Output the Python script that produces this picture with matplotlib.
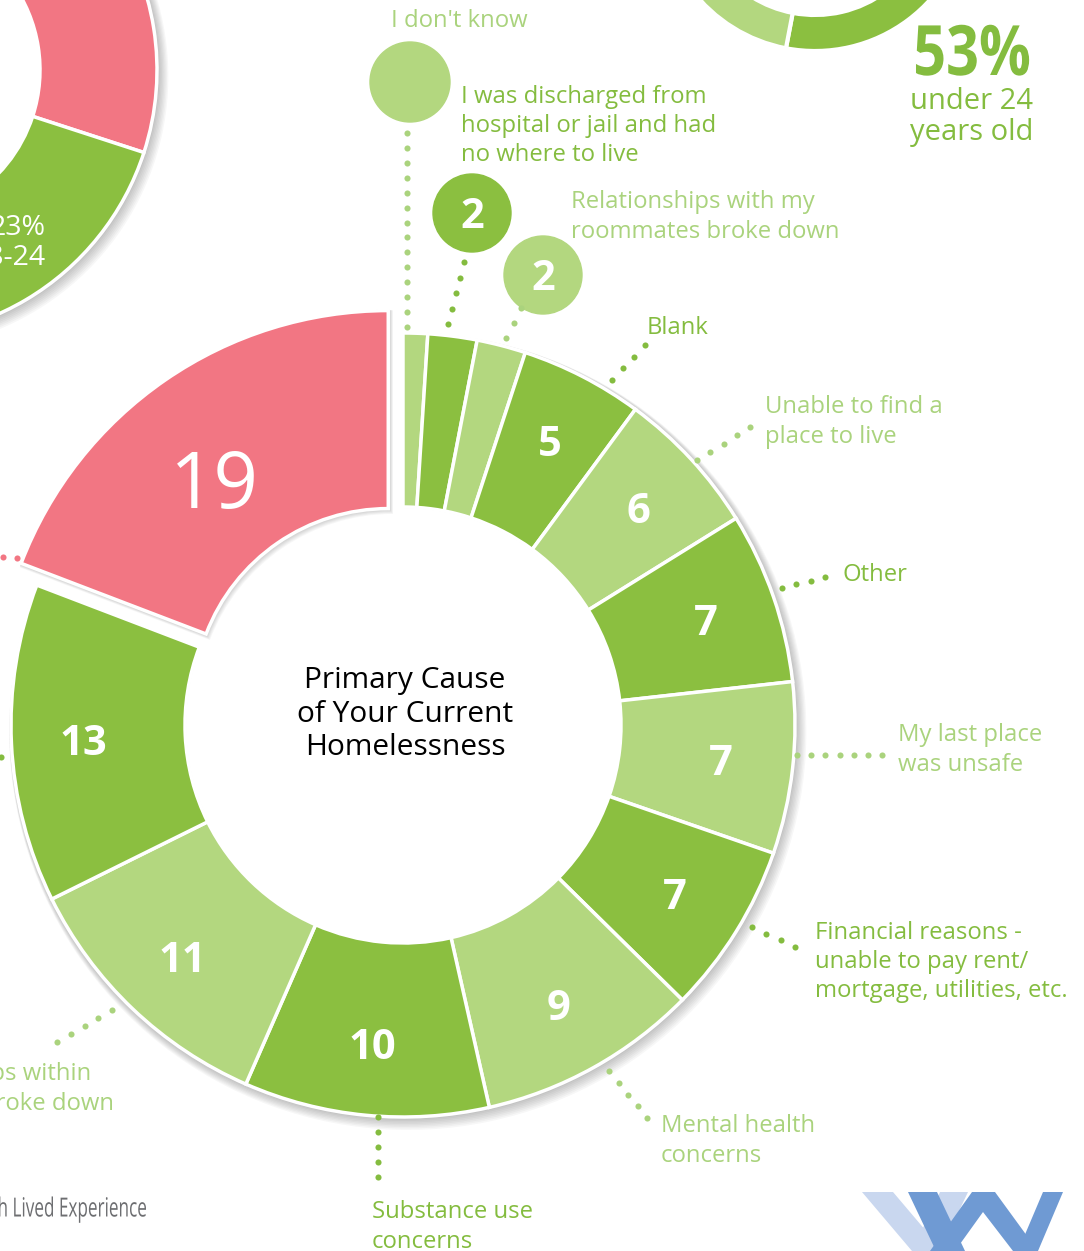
import matplotlib
matplotlib.use('Agg')
import matplotlib.pyplot as plt
from matplotlib.patches import Wedge, Circle, Polygon
from matplotlib.patheffects import AbstractPathEffect
from matplotlib.transforms import Affine2D
import numpy as np

# canvas in pixels
W, H = 1084, 1251

# === data ===
causes = ["I don't know",
          "I was discharged from\nhospital or jail and had\nno where to live",
          "Relationships with my\nroommates broke down",
          "Blank",
          "Unable to find a\nplace to live",
          "Other",
          "My last place\nwas unsafe",
          "Financial reasons -\nunable to pay rent/\nmortgage, utilities, etc.",
          "Mental health\nconcerns",
          "Substance use\nconcerns",
          "Relationships within\nmy family broke down",
          "",
          ""]
counts = [1, 2, 2, 5, 6, 7, 7, 7, 9, 10, 11, 13, 19]

age_groups = ["Under 18", "18-24", "Over 24"]
age_share = [30, 23, 47]

under24_groups = ["Under 24", "24 and over"]
under24_share = [53, 47]

# === colours ===
DARK = '#8BBF40'
LIGHT = '#B3D77F'
RED = '#F27683'
TXT_DARK = '#84BC3F'
TXT_LIGHT = '#AAD37D'
seg_colors = [LIGHT, DARK] * 6 + [RED]
txt_colors = [TXT_LIGHT if c == LIGHT else TXT_DARK for c in seg_colors]

FONT = 'Open Sans'
plt.rcParams['font.family'] = [FONT, 'DejaVu Sans']


def fy(y):
    # image y (down) -> axes y (up)
    return H - y


class Squeeze(AbstractPathEffect):
    # squeeze text horizontally around x0 (display px) to fake a condensed face
    def __init__(self, sx, x0):
        super().__init__()
        self.sx = sx
        self.x0 = x0

    def draw_path(self, renderer, gc, tpath, affine, rgbFace=None):
        squeeze = Affine2D().translate(-self.x0, 0).scale(self.sx, 1).translate(self.x0, 0)
        renderer.draw_path(gc, tpath, affine + squeeze, rgbFace)


fig = plt.figure(figsize=(W / 100, H / 100), dpi=100)
ax = fig.add_axes([0, 0, 1, 1])

# layout of the main ring
CX, CY = 403, 725
R_OUT, R_IN = 392, 218
RED_R, RED_W = 393, 198
EXPLODE = 26


def add_shadow(center, r, t1, t2, width, z=0.5):
    # soft grey drop shadow, several thin translucent layers
    for k in range(1, 9):
        ax.add_patch(Wedge((center[0] + k * 0.6, center[1] - k * 0.8), r + k * 0.7,
                           t1, t2, width=width + k * 0.7, facecolor='black',
                           alpha=0.03, lw=0, zorder=z))


def dotted(p0, p1, color, step=15):
    n = max(2, int(round(np.hypot(p1[0] - p0[0], p1[1] - p0[1]) / step)) + 1)
    xs = np.linspace(p0[0], p1[0], n)
    ys = np.linspace(fy(p0[1]), fy(p1[1]), n)
    ax.plot(xs, ys, 'o', color=color, ms=4.4, mew=0, zorder=4)


# --- main donut ---
explode = [0] * (len(counts) - 1) + [EXPLODE]
wedges, _ = ax.pie(counts, colors=seg_colors, startangle=90, counterclock=False,
                   radius=R_OUT, center=(CX, fy(CY)), explode=explode, frame=False,
                   wedgeprops=dict(width=R_OUT - R_IN, edgecolor='white', linewidth=2.5))
red = wedges[-1]
red.set_radius(RED_R)
red.set_width(RED_W)
for w in wedges:
    w.set_zorder(3)

green = wedges[:-1]
add_shadow((CX, fy(CY)), R_OUT + 1, min(w.theta1 for w in green),
           max(w.theta2 for w in green), R_OUT - R_IN)
add_shadow(red.center, RED_R + 1, red.theta1, red.theta2, RED_W, z=2.6)
ax.add_patch(Circle((CX, fy(CY)), R_IN - 1, color='white', zorder=2))

# numbers inside the wedges (small ones go in bubbles)
NUM_PX = 30 * 100 / 72
for w, n in zip(wedges[3:-1], counts[3:-1]):
    a = np.deg2rad((w.theta1 + w.theta2) / 2)
    ax.text(CX + 320 * np.cos(a), fy(CY) + 320 * np.sin(a) - 0.36 * NUM_PX, str(n),
            color='white', fontsize=30, fontweight='bold', ha='center', va='baseline',
            zorder=5)
a = np.deg2rad((red.theta1 + red.theta2) / 2 + 2)
ax.text(red.center[0] + 286 * np.cos(a) - 4, red.center[1] + 286 * np.sin(a) - 34,
        str(counts[-1]), color='white', fontsize=56, ha='center', va='baseline', zorder=5)

ax.text(CX + 2, fy(714), "Primary Cause\nof Your Current\nHomelessness", color='black',
        fontsize=21.5, ha='center', va='center', linespacing=1.22, zorder=5)

# bubbles for the three thin wedges: (x, y, r) in image px
bubbles = [(410, 82, 40), (472, 213, 39), (543, 275, 39)]
for (bx, by, br), c, n in zip(bubbles, seg_colors[:3], counts[:3]):
    ax.add_patch(Circle((bx, fy(by)), br, color=c, zorder=4))
    if n > 1:
        ax.text(bx, fy(by) - 0.36 * NUM_PX, str(n), color='white', fontsize=30,
                fontweight='bold', ha='center', va='baseline', zorder=5)

# dotted leaders: start and end in image px
leaders = [((407, 327), (407, 133)),
           ((448, 324), (464, 262)),
           ((506, 338), (521, 308)),
           ((612, 380), (645, 345)),
           ((697, 460), (750, 427)),
           ((782, 588), (825, 577)),
           ((797, 755), (882, 755)),
           ((752, 927), (795, 947)),
           ((609, 1071), (647, 1118)),
           ((378, 1117), (378, 1177)),
           ((112, 1010), (57, 1042)),
           ((1, 757), (-60, 762)),
           ((17, 558), (-40, 552))]
for (p0, p1), c in zip(leaders, txt_colors[:-1] + [RED]):
    dotted(p0, p1, c)

# label text positions: (x, y center, ha)
label_pos = [(391, 21, 'left'), (461, 126, 'left'), (571, 217, 'left'), (647, 328, 'left'),
             (765, 422, 'left'), (843, 575, 'left'), (898, 750, 'left'), (815, 962, 'left'),
             (661, 1141, 'left'), (372, 1227, 'left'), (114, 1089, 'right')]
for (lx, ly, ha), txt, c in zip(label_pos, causes, txt_colors):
    ax.text(lx, fy(ly), txt, color=c, fontsize=17.2, ha=ha, va='center',
            multialignment='left', linespacing=1.3, zorder=5)

# --- partial age donut, top left ---
aw, _ = ax.pie(age_share, colors=[RED, DARK, LIGHT], startangle=90, counterclock=False,
               radius=267, center=(-110, fy(70)), frame=False,
               wedgeprops=dict(width=117, edgecolor='white', linewidth=2.5))
for w in aw:
    w.set_zorder(3)
add_shadow((-110, fy(70)), 268, -200, 100, 117)
ax.add_patch(Circle((-110, fy(70)), 149, color='white', zorder=2))
ax.text(46, fy(243), "23%\n18-24", color='white', fontsize=20.5, ha='right', va='center',
        multialignment='right', linespacing=1.1, zorder=5)

# --- partial donut, top right ---
uw, _ = ax.pie(under24_share, colors=[DARK, LIGHT], startangle=90, counterclock=False,
               radius=155, center=(815, fy(-104)), frame=False,
               wedgeprops=dict(width=36, edgecolor='white', linewidth=3))
ax.text(972, fy(75), "53%", color=TXT_DARK, fontsize=50, fontweight='bold',
        ha='center', va='baseline', zorder=5, path_effects=[Squeeze(0.83, 972)])
ax.text(972, fy(117), "under 24\nyears old", color=TXT_DARK, fontsize=21, ha='center',
        va='center', linespacing=1.12, zorder=5)

# footer text and logo
ax.text(147, fy(1210), "with Lived Experience", color='#6D6E71', fontsize=19,
        ha='right', va='center', zorder=5, path_effects=[Squeeze(0.65, 147)])
logo_light = [[(862, 1192), (893, 1192), (943, 1251), (912, 1251)],
              [(940, 1192), (968, 1192), (940, 1251), (912, 1251)]]
logo_dark = [[(908, 1192), (937, 1192), (965, 1251), (936, 1251)],
             [(972, 1192), (995, 1192), (1038, 1251), (1013, 1251), (983, 1212),
              (955, 1251), (930, 1251)],
             [(1043, 1192), (1063, 1192), (1038, 1251), (1018, 1251)]]
for pts in logo_light:
    ax.add_patch(Polygon([(x, fy(y)) for x, y in pts], color='#C9D7EF', lw=0, zorder=3))
for pts in logo_dark:
    ax.add_patch(Polygon([(x, fy(y)) for x, y in pts], color='#6F9AD3', lw=0, zorder=4))

ax.set_xlim(0, W)
ax.set_ylim(0, H)
ax.set_aspect('equal')
ax.axis('off')
fig.savefig('out.png', dpi=100, facecolor='white')
